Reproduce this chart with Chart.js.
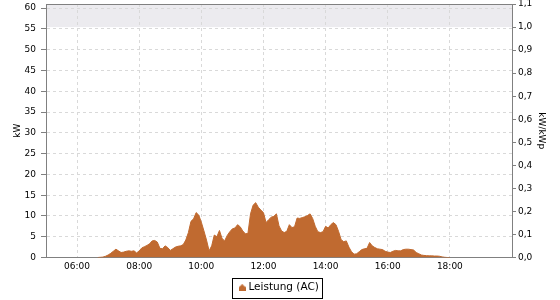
<!DOCTYPE html>
<html>
<head>
<meta charset="utf-8">
<script src="https://cdn.jsdelivr.net/npm/chart.js@4.4.0/dist/chart.umd.min.js"></script>
<style>
  body { margin: 0; background: #fff; }
  #wrap { width: 560px; height: 300px; }
</style>
</head>
<body>
<div id="wrap"><canvas id="leistungChart" width="560" height="300"></canvas></div>
<script>
// 5-Minuten-Werte (kW) ab 06:40 bis 18:00
const startZeit = 6 + 40 / 60;
const schritt = 5 / 60;
const leistung = [
    0, 0.05, 0.1, 0.3,
    0.6, 1.0, 1.5, 2.0, 1.6, 1.2, 1.3, 1.5, 1.6, 1.5, 1.6, 1.1,
    1.6, 2.3, 2.6, 2.9, 3.3, 4.0, 4.1, 3.7, 2.2, 2.1, 2.8, 2.4,
    1.7, 2.1, 2.5, 2.7, 2.8, 3.1, 4.2, 6.0, 8.7, 9.3, 10.8, 10.2,
    8.5, 6.4, 4.2, 1.6, 2.8, 5.4, 5.0, 6.5, 4.6, 4.0, 5.3, 6.2,
    6.9, 7.1, 7.9, 7.4, 6.4, 5.7, 5.8, 10.5, 12.6, 13.2, 12.1, 11.4,
    10.8, 8.4, 9.1, 9.7, 9.9, 10.5, 7.6, 6.4, 6.0, 6.3, 7.9, 7.2,
    7.4, 9.5, 9.4, 9.6, 9.8, 10.1, 10.5, 9.4, 7.5, 6.2, 6.0, 6.2,
    7.5, 7.1, 7.9, 8.4, 7.9, 6.3, 4.3, 3.8, 4.0, 2.5, 1.4, 0.8,
    0.9, 1.4, 1.9, 2.1, 2.2, 3.6, 2.8, 2.4, 2.1, 2.0, 1.9, 1.5,
    1.3, 1.2, 1.5, 1.7, 1.6, 1.6, 1.9, 2.0, 2.0, 1.9, 1.8, 1.2,
    0.9, 0.6, 0.5, 0.45, 0.4, 0.4, 0.35, 0.35, 0.3, 0.15, 0.05, 0,
    0
];
const zeitTicks = [6, 8, 10, 12, 14, 16, 18];
const kwTicks = [0, 5, 10, 15, 20, 25, 30, 35, 40, 45, 50, 55, 60];
const kwpTicks = [0, 0.1, 0.2, 0.3, 0.4, 0.5, 0.6, 0.7, 0.8, 0.9, 1.0, 1.1];

const schrift = "'DejaVu Sans', sans-serif";
const farbe = '#c06a30';

let punkte = leistung.map(function(v, i) {
    return { x: startZeit + i * schritt, y: v };
});

// kleines Haus-Symbol fuer die Legende
let icon = document.createElement('canvas');
icon.width = 7;
icon.height = 7;
let ic = icon.getContext('2d');
ic.fillStyle = farbe;
ic.beginPath();
ic.moveTo(0, 3);
ic.lineTo(3.5, 0);
ic.lineTo(7, 3);
ic.lineTo(7, 7);
ic.lineTo(0, 7);
ic.closePath();
ic.fill();

// grauer Bereich oberhalb 1,0 kW/kWp
const bandPlugin = {
    id: 'band',
    beforeDraw: function(chart) {
        let a = chart.chartArea;
        let y1 = chart.scales.y2.getPixelForValue(1.0);
        let c = chart.ctx;
        c.save();
        c.fillStyle = '#ecebef';
        c.fillRect(a.left, a.top, a.right - a.left, y1 - a.top);
        c.restore();
    }
};

// Rahmen oben + Rahmen um Legende
const rahmenPlugin = {
    id: 'rahmen',
    afterDraw: function(chart) {
        let a = chart.chartArea;
        let c = chart.ctx;
        c.save();
        c.strokeStyle = '#808080';
        c.lineWidth = 1;
        c.beginPath();
        c.moveTo(a.left, Math.round(a.top) + 0.5);
        c.lineTo(a.right, Math.round(a.top) + 0.5);
        c.stroke();

        let hb = chart.legend.legendHitBoxes[0];
        if (hb) {
            c.strokeStyle = '#000';
            let l = Math.round(hb.left - 9) + 0.5;
            let t = Math.round(hb.top - 5) + 0.5;
            let r = Math.round(hb.left + hb.width + 3) + 0.5;
            let b = Math.round(hb.top + hb.height + 5) + 0.5;
            c.strokeRect(l, t, r - l, b - t);
        }
        c.restore();
    }
};

let ctx = document.getElementById('leistungChart').getContext('2d');
let chart = new Chart(ctx, {
    type: 'line',
    data: {
        datasets: [{
            label: 'Leistung (AC)',
            data: punkte,
            yAxisID: 'y',
            fill: 'origin',
            backgroundColor: farbe,
            borderColor: farbe,
            borderWidth: 1,
            pointRadius: 0,
            tension: 0
        }]
    },
    options: {
        responsive: false,
        animation: false,
        layout: { padding: { top: 4, left: 0, right: 0, bottom: -3 } },
        plugins: {
            tooltip: { enabled: false },
            legend: {
                position: 'bottom',
                labels: {
                    usePointStyle: true,
                    pointStyle: icon,
                    boxWidth: 2,
                    padding: 10,
                    color: '#000',
                    font: { family: schrift, size: 10.5 }
                }
            }
        },
        scales: {
            x: {
                type: 'linear',
                min: 5,
                max: 20,
                afterBuildTicks: function(s) {
                    s.ticks = zeitTicks.map(v => ({ value: v }));
                },
                afterFit: function(s) {
                    s.height = 15;
                    s.paddingLeft = 0;
                    s.paddingRight = 0;
                },
                ticks: {
                    callback: v => String(v).padStart(2, '0') + ':00',
                    color: '#000',
                    font: { family: schrift, size: 9 },
                    padding: 4,
                    maxRotation: 0
                },
                grid: { color: '#d9d9d9', drawTicks: false },
                border: { color: '#808080', dash: [3, 3] }
            },
            y: {
                position: 'left',
                min: 0,
                max: 61,
                afterBuildTicks: function(s) {
                    s.ticks = kwTicks.map(v => ({ value: v }));
                },
                afterFit: function(s) {
                    s.width = 46;
                    s.paddingTop = 0;
                    s.paddingBottom = 0;
                },
                ticks: {
                    color: '#000',
                    font: { family: schrift, size: 9 },
                    padding: 5
                },
                title: {
                    display: true,
                    text: 'kW',
                    color: '#000',
                    font: { family: schrift, size: 9 },
                    padding: { top: 12, bottom: 0 }
                },
                grid: { color: '#d9d9d9', tickLength: 5, tickColor: '#808080' },
                border: { color: '#808080', dash: [3, 3] }
            },
            y2: {
                position: 'right',
                min: 0,
                max: 1.1,
                afterBuildTicks: function(s) {
                    s.ticks = kwpTicks.map(v => ({ value: v }));
                },
                afterFit: function(s) {
                    s.width = 48;
                    s.paddingTop = 0;
                    s.paddingBottom = 0;
                },
                ticks: {
                    callback: v => v.toFixed(1).replace('.', ','),
                    color: '#000',
                    font: { family: schrift, size: 9 },
                    padding: 2
                },
                title: {
                    display: true,
                    text: 'kW/kWp',
                    color: '#000',
                    font: { family: schrift, size: 9 },
                    padding: { top: 13, bottom: 0 }
                },
                grid: { drawOnChartArea: false, tickLength: 4, tickColor: '#808080' },
                border: { color: '#808080' }
            }
        }
    },
    plugins: [bandPlugin, rahmenPlugin]
});
</script>
</body>
</html>
